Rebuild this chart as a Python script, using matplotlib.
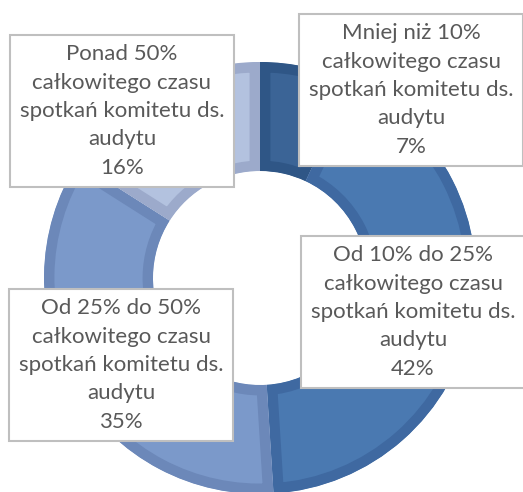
import matplotlib
matplotlib.use("Agg")
import matplotlib.pyplot as plt

# udział w czasie spotkań komitetu ds. audytu
values = [7, 42, 35, 16]
labels = [
    "Mniej niż 10%\ncałkowitego czasu\nspotkań komitetu ds.\naudytu\n7%",
    "Od 10% do 25%\ncałkowitego czasu\nspotkań komitetu ds.\naudytu\n42%",
    "Od 25% do 50%\ncałkowitego czasu\nspotkań komitetu ds.\naudytu\n35%",
    "Ponad 50%\ncałkowitego czasu\nspotkań komitetu ds.\naudytu\n16%",
]
fill_colors = ["#3B6496", "#4A79B1", "#7B99CA", "#B3C2DF"]
edge_colors = ["#2F5686", "#3F69A1", "#6C88B9", "#9CAACB"]
label_pos = [(411, 402), (413, 180), (121, 127), (122, 381)]

fig = plt.figure(figsize=(5.23, 4.92), dpi=100)
ax = fig.add_axes([0, 0, 1, 1])

wedges, _ = ax.pie(values, center=(260, 214), radius=216, startangle=90,
                   counterclock=False, colors=fill_colors,
                   wedgeprops=dict(width=109))

ax.set_xlim(0, 523)
ax.set_ylim(0, 492)
ax.set_aspect("equal")
ax.axis("off")

# ciemniejsza krawędź tylko do środka każdego wycinka
for w, ec in zip(wedges, edge_colors):
    w.set_edgecolor(ec)
    w.set_linewidth(15)
    w.set_clip_on(True)
    w.set_clip_path(w)

for txt, (x, y) in zip(labels, label_pos):
    ax.text(x, y, txt, ha="center", va="center", fontsize=16,
            family="Lato", color="#595959", linespacing=1.52, zorder=5,
            bbox=dict(boxstyle="square,pad=0.42", fc="white",
                      ec="#BFBFBF", lw=1.5))

fig.savefig("out.png", dpi=100)
